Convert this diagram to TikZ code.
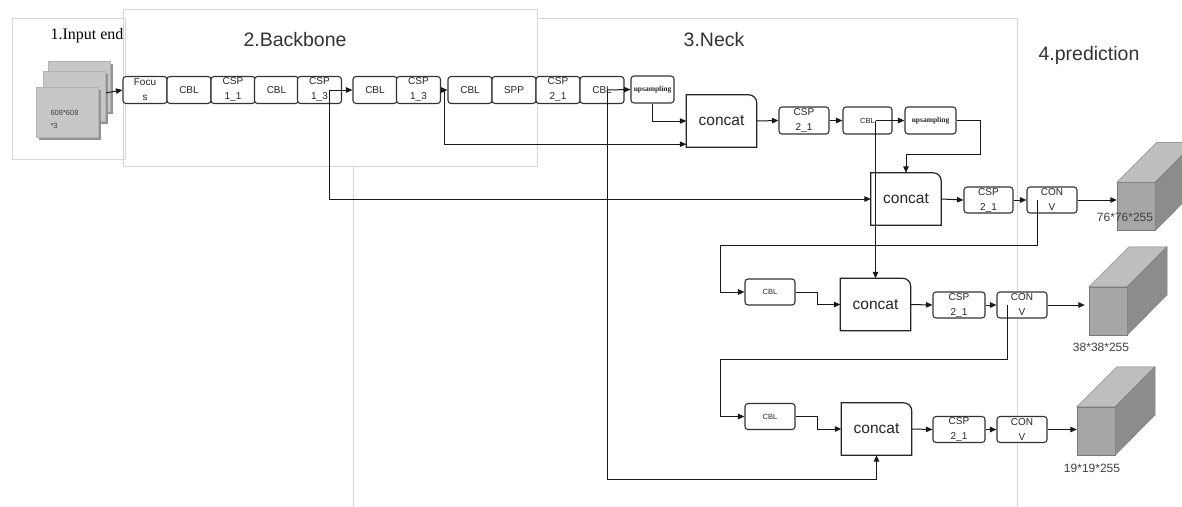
\documentclass[tikz,border=0pt]{standalone}
\usepackage{fontspec}
\setmainfont{Liberation Serif}
\setsansfont{Liberation Sans}
\usetikzlibrary{arrows.meta,shadows}

\definecolor{panelgray}{HTML}{D6D6D6}
\definecolor{cubefront}{HTML}{A6A6A6}
\definecolor{cubetop}{HTML}{BEBEBE}
\definecolor{cubeside}{HTML}{8C8C8C}
\definecolor{cubeedge}{HTML}{7A7A7A}
\definecolor{labgray}{HTML}{404040}

\begin{document}
\begin{tikzpicture}[x=1pt, y=-1pt,
    panel/.style={draw=panelgray, line width=0.8pt},
    title/.style={font=\sffamily\fontsize{19.5}{22}\selectfont, text=black!80},
    blk/.style={draw=black!80, line width=1.1pt, rounded corners=3pt, fill=white,
        inner sep=0pt, minimum height=27pt, minimum width=44pt, align=center,
        font=\sffamily\fontsize{10}{15}\selectfont, text=black!85},
    sblk/.style={blk, font=\sffamily\fontsize{7.5}{9}\selectfont},
    upblk/.style={blk, font=\rmfamily\bfseries\fontsize{7.5}{9}\selectfont},
    cat/.style={minimum width=70pt, minimum height=52pt, inner sep=0pt,
        font=\sffamily\fontsize{15.5}{18}\selectfont, text=black!85},
    catline/.style={draw=black!85, line width=1.2pt},
    arr/.style={-{Triangle[length=6.5pt,width=5.5pt]}, line width=1pt, draw=black!90},
    layer/.style={fill=black!22, draw=black!30, minimum width=62pt, minimum height=50pt,
        drop shadow={shadow xshift=2.5pt, shadow yshift=-2.5pt, fill=black!42, opacity=1}},
    cubeface/.style={draw=cubeedge, fill=cubefront, minimum width=38pt,
        minimum height=48pt, inner sep=0pt},
    dim/.style={font=\sffamily\fontsize{12}{13}\selectfont, text=labgray}]

    \useasboundingbox (0,0) rectangle (1182,506);
    \clip (0,0) rectangle (1182,506);
    \fill[white] (0,0) rectangle (1182,506);

    % panels
    \draw[panel] (353,18) rectangle (1017,530);
    \draw[panel, fill=white] (123,9) rectangle (537,166);
    \draw[panel] (12,18) rectangle (125,159);

    \node[font=\rmfamily\fontsize{16}{18}\selectfont] (tin) at (87,36) {1.Input end};
    \node[title] (tbb) at (295,40) {2.Backbone};
    \node[title] (tnk) at (714,40) {3.Neck};
    \node[title] (tpr) at (1089,55) {4.prediction};

    % input image
    \foreach \n/\x/\y in {lay3/79/86, lay2/74/96, img/67/112}
        \node[layer] (\n) at (\x,\y) {};
    \node[anchor=west, align=left, font=\sffamily\fontsize{7.5}{13}\selectfont, text=labgray]
        (imgtxt) at (47,119.5) {608*608\\*3};

    % backbone row
    \foreach \x/\n/\t in {145/foc/{Focu\\s}, 189/cbla/CBL, 233/cspa/{CSP\\1\_1},
        276.5/cblb/CBL, 319.5/cspb/{CSP\\1\_3}, 375/cblc/CBL, 418.5/cspc/{CSP\\1\_3},
        470/cbld/CBL, 514/spp/SPP, 558/cspd/{CSP\\2\_1}, 602/cble/CBL}
        \node[blk] (\n) at (\x,90) {\t};
    \node[upblk, minimum width=43pt] (up1) at (652.5,89.5) {upsampling};

    % neck
    \node[cat] (cat1) at (721.5,121) {concat};
    \node[blk, minimum width=50pt] (csp4) at (804,120.5) {CSP\\2\_1};
    \node[sblk, minimum width=49pt] (cbl6) at (867.5,120.5) {CBL};
    \node[upblk, minimum width=51pt] (up2) at (930.5,120.5) {upsampling};

    \node[cat] (cat2) at (906,199) {concat};
    \node[blk, minimum width=49pt, minimum height=26pt] (csp5) at (988.5,200) {CSP\\2\_1};
    \node[blk, minimum width=50pt, minimum height=26pt] (conv1) at (1052,200) {CON\\V};

    \node[sblk, minimum width=50pt, minimum height=26pt] (cbl7) at (770,292) {CBL};
    \node[cat] (cat3) at (875.5,304.5) {concat};
    \node[blk, minimum width=52pt, minimum height=26pt] (csp6) at (959,305) {CSP\\2\_1};
    \node[blk, minimum width=50pt, minimum height=26pt] (conv2) at (1022,305) {CON\\V};

    \node[sblk, minimum width=50pt, minimum height=26pt] (cbl8) at (770,416.5) {CBL};
    \node[cat] (cat4) at (876.5,429) {concat};
    \node[blk, minimum width=52pt, minimum height=26pt] (csp7) at (959,429.5) {CSP\\2\_1};
    \node[blk, minimum width=50pt, minimum height=26pt] (conv3) at (1022,429.5) {CON\\V};

    \foreach \c in {cat1,cat2,cat3,cat4}
        \draw[catline] (\c.south west) -- (\c.north west) -- ([xshift=-8pt]\c.north east)
            arc[start angle=90, end angle=0, radius=8pt] -- (\c.south east) -- cycle;

    % prediction cubes
    \node[cubeface] (cuba) at (1136,206.5) {};
    \node[cubeface] (cubb) at (1108,311) {};
    \node[cubeface] (cubc) at (1096,431) {};
    \foreach \c in {cuba,cubb,cubc} {
        \filldraw[draw=cubeedge, fill=cubetop] (\c.north west) -- ++(40pt,40pt) -- ++(38pt,0pt)
            -- (\c.north east) -- cycle;
        \filldraw[draw=cubeedge, fill=cubeside] (\c.north east) -- ++(40pt,40pt) -- ++(0pt,-48pt)
            -- (\c.south east) -- cycle;
    }
    \node[dim] (dima) at (1125,217) {76*76*255};
    \node[dim] (dimb) at (1101,347) {38*38*255};
    \node[dim] (dimc) at (1092,468) {19*19*255};

    % connectors
    \draw[arr] ([shift={(8pt,-6pt)}]img.north east) -- (foc.west);

    \coordinate (t1) at ([xshift=10pt]cspb.center);
    \draw[arr] (t1) -- (cblc.west);
    \draw[arr] (t1) |- (cat2.west);

    \draw[arr] (cspc.east) -- (cbld.west);
    \draw[arr] ([xshift=3pt]cspc.east) |- ([yshift=3pt]cat1.south west);

    \coordinate (t2) at ([xshift=5pt]cble.center);
    \draw[arr] (t2) -- (up1.west);
    \draw[arr] (t2) |- ([yshift=-24pt]cat4.south) -- (cat4.south);

    \draw[arr] (up1.south) |- (cat1.west);
    \draw[arr] (cat1.east) -- (csp4.west);
    \draw[arr] (csp4.east) -- (cbl6.west);

    \coordinate (t4) at ([xshift=8pt]cbl6.center);
    \draw[arr] (t4) -- (up2.west);
    \draw[arr] (t4) -- (t4 |- cat3.north);
    \draw[arr] (up2.east) -- ++(24,0) |- ([yshift=18pt]cat2.north) -- (cat2.north);

    \draw[arr] (cat2.east) -- (csp5.west);
    \draw[arr] (csp5.east) -- (conv1.west);
    \draw[arr] (conv1.east) -- (conv1.east -| cuba.west);

    \coordinate (t5) at ([xshift=-15pt]conv1.center);
    \draw[arr] (t5) -- ++(0,45) -| ([xshift=-24pt]cbl7.west) -- (cbl7.west);
    \draw[arr] (cbl7.east) -- ++(22,0) |- (cat3.west);
    \draw[arr] (cat3.east) -- (csp6.west);
    \draw[arr] (csp6.east) -- (conv2.west);
    \draw[arr] (conv2.east) -- ([xshift=-4pt]conv2.east -| cubb.west);

    \coordinate (t6) at ([xshift=-15pt]conv2.center);
    \draw[arr] (t6) -- ++(0,54) -| ([xshift=-24pt]cbl8.west) -- (cbl8.west);
    \draw[arr] (cbl8.east) -- ++(22,0) |- (cat4.west);
    \draw[arr] (cat4.east) -- (csp7.west);
    \draw[arr] (csp7.east) -- (conv3.west);
    \draw[arr] (conv3.east) -- (conv3.east -| cubc.west);
\end{tikzpicture}
\end{document}
